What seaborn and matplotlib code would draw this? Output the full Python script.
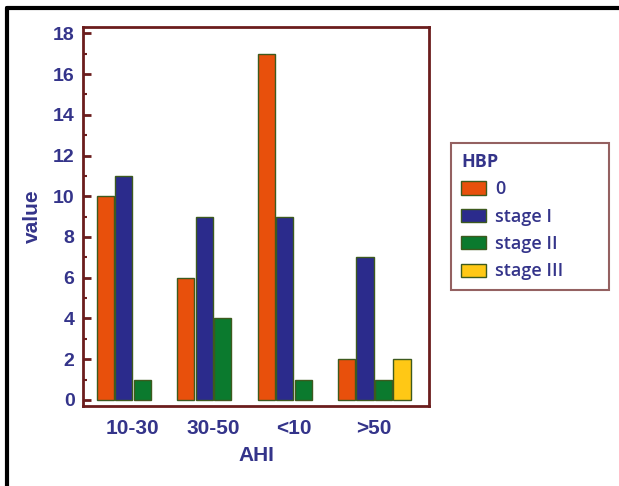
import pandas as pd
import matplotlib.pyplot as plt
import seaborn as sns
from matplotlib.lines import Line2D

# data
ahi_groups = ["10-30", "30-50", "<10", ">50"]
hbp_levels = ["0", "stage I", "stage II", "stage III"]
vals_0 = [10, 6, 17, 2]
vals_stage1 = [11, 9, 9, 7]
vals_stage2 = [1, 4, 1, 1]
vals_stage3 = [None, None, None, 2]

colors = ["#E8500C", "#2B2B8C", "#0B7A2E", "#FFC815"]
navy = "#34348a"
maroon = "#6b1d1d"

rows = []
for lvl, vals in zip(hbp_levels, [vals_0, vals_stage1, vals_stage2, vals_stage3]):
    for g, v in zip(ahi_groups, vals):
        if v is not None:
            rows.append({"AHI": g, "HBP": lvl, "value": v})
df = pd.DataFrame(rows)

sns.set_theme(style="white")
plt.rcParams["font.family"] = ["Liberation Sans", "DejaVu Sans"]

fig = plt.figure(figsize=(6.19, 4.86), dpi=100)
ax = fig.add_axes([0.134, 0.1646, 0.559, 0.7794])

sns.barplot(data=df, x="AHI", y="value", hue="HBP", order=ahi_groups,
            hue_order=hbp_levels, palette=colors, saturation=1,
            width=0.92, gap=0.08, edgecolor="#3d5a1e", linewidth=1, ax=ax)

ax.set_xlim(-0.62, 3.68)
ax.set_ylim(-0.3, 18.3)
ax.set_yticks(range(0, 19, 2))
ax.set_yticks(range(1, 19, 2), minor=True)
for s in ax.spines.values():
    s.set_color(maroon)
    s.set_linewidth(2)
ax.tick_params(axis="y", which="major", direction="in", length=6, width=2,
               color=maroon, left=True, labelsize=14, labelcolor=navy, pad=6)
ax.tick_params(axis="y", which="minor", direction="in", length=3, width=1.5,
               color=maroon, left=True)
ax.tick_params(axis="x", length=0, labelsize=15, labelcolor=navy, pad=9)
for lab in ax.get_xticklabels() + ax.get_yticklabels():
    lab.set_fontweight("bold")

ax.set_xlabel("AHI", fontsize=15, color=navy, fontweight="bold", labelpad=6)
ax.set_ylabel("value", fontsize=15, color=navy, fontweight="bold", labelpad=8)

handles, labels = ax.get_legend_handles_labels()
ax.get_legend().remove()
leg = fig.legend(handles, labels, title="HBP", loc="upper left",
                 bbox_to_anchor=(451 / 619, 1 - 289 / 486, 158 / 619, 146 / 486),
                 mode="expand", borderaxespad=0, frameon=True, fancybox=False,
                 alignment="left", prop={"family": "Open Sans", "weight": "semibold", "size": 13},
                 title_fontproperties={"family": "Open Sans", "weight": "bold", "size": 13},
                 handlelength=1.4, handleheight=0.75, handletextpad=0.5,
                 labelspacing=0.52, borderpad=0.55)
leg.get_frame().set_edgecolor("#7a3a3a")
leg.get_frame().set_linewidth(1.5)
leg.get_title().set_color(navy)
for t in leg.get_texts():
    t.set_color(navy)

# outer frame lines of the original figure
fig.add_artist(Line2D([7 / 619, 1], [1 - 8 / 486, 1 - 8 / 486],
                      transform=fig.transFigure, color="black", linewidth=3))
fig.add_artist(Line2D([7 / 619, 7 / 619], [0, 1 - 8 / 486],
                      transform=fig.transFigure, color="black", linewidth=3))

fig.savefig("out.png", dpi=100)
